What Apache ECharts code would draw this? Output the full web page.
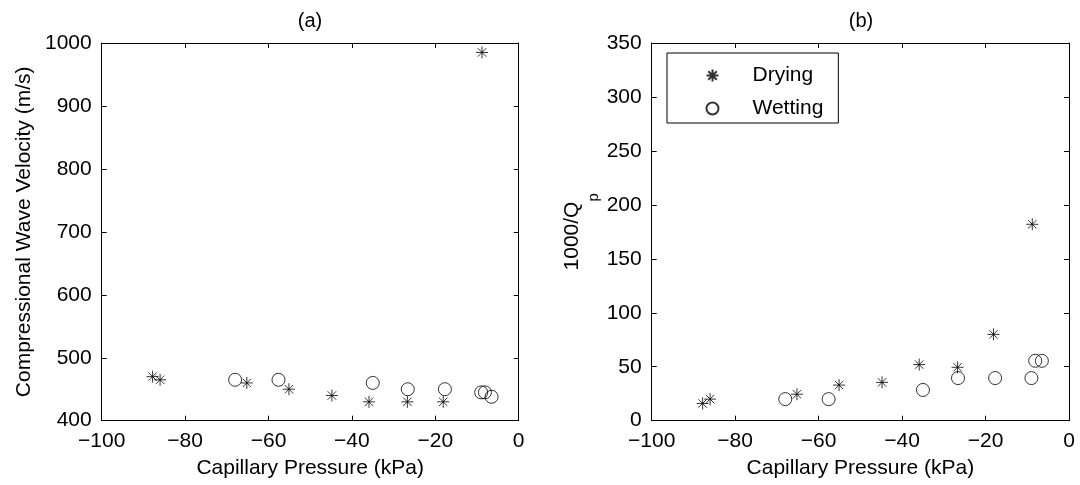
<!DOCTYPE html>
<html>
<head>
<meta charset="utf-8">
<script src="https://cdn.jsdelivr.net/npm/echarts@6/dist/echarts.min.js"></script>
<style>
  html, body { margin: 0; padding: 0; background: #fff; }
  #chart { width: 1080px; height: 485px; }
</style>
</head>
<body>
<div id="chart"></div>
<script>
// capillary pressure (kPa), same for both panels
const dryingPressure = [-87.8, -86.0, -65.2, -55.1, -44.8, -35.9, -26.7, -18.1, -8.8]
const wettingPressure = [-68.0, -57.6, -35.0, -26.6, -17.7, -9.0, -8.1, -6.5]
// (a) compressional wave velocity (m/s)
const dryingVelocity = [470, 465, 460, 450, 440, 430, 430, 430, 985]
const wettingVelocity = [465, 465, 460, 450, 450, 445, 445, 438]
// (b) attenuation 1000/Qp
const dryingAtten = [16, 20, 24.5, 33, 35.5, 52, 49.5, 80, 182]
const wettingAtten = [20, 20, 28.5, 39.5, 39.5, 39.5, 55.5, 55.5]

const FONT = 'Liberation Sans, Arial, Helvetica, sans-serif'
const STAR = 'path://M5,0L5,10M0,5L10,5M1.5,1.5L8.5,8.5M1.5,8.5L8.5,1.5'

const pairs = (xs, ys) => xs.map((x, i) => [x, ys[i]])
const minus = (v) => String(v).replace('-', '\u2212')

function axisBase(min, max, interval) {
  return {
    type: 'value',
    min: min,
    max: max,
    interval: interval,
    axisLine: { show: true, onZero: false, lineStyle: { color: '#000', width: 1 } },
    axisTick: { show: true, inside: true, length: 5, lineStyle: { color: '#000' } },
    splitLine: { show: false },
    axisLabel: { show: true, color: '#000', fontSize: 21, fontFamily: FONT, margin: 10, formatter: minus }
  }
}

function mirror(axis, position, gridIndex) {
  return Object.assign({}, axis, {
    position: position,
    gridIndex: gridIndex,
    name: '',
    axisLabel: { show: false }
  })
}

const xA = Object.assign(axisBase(-100, 0, 20), {
  gridIndex: 0,
  position: 'bottom',
  name: 'Capillary Pressure (kPa)',
  nameLocation: 'middle',
  nameGap: 37,
  nameTextStyle: { color: '#000', fontSize: 21, fontFamily: FONT }
})
const yA = Object.assign(axisBase(400, 1000, 100), {
  gridIndex: 0,
  position: 'left',
  name: 'Compressional Wave Velocity (m/s)',
  nameLocation: 'middle',
  nameGap: 67,
  nameTextStyle: { color: '#000', fontSize: 21, fontFamily: FONT }
})
const xB = Object.assign(axisBase(-100, 0, 20), {
  gridIndex: 1,
  position: 'bottom',
  name: 'Capillary Pressure (kPa)',
  nameLocation: 'middle',
  nameGap: 37,
  nameTextStyle: { color: '#000', fontSize: 21, fontFamily: FONT }
})
const yB = Object.assign(axisBase(0, 350, 50), {
  gridIndex: 1,
  position: 'left',
  name: '{n|1000/Q}{s|p}',
  nameLocation: 'middle',
  nameGap: 50,
  nameTextStyle: {
    color: '#000',
    fontFamily: FONT,
    rich: {
      n: { fontSize: 21, fontFamily: FONT, color: '#000', lineHeight: 24, verticalAlign: 'top' },
      s: { fontSize: 15, fontFamily: FONT, color: '#000', lineHeight: 40, verticalAlign: 'bottom' }
    }
  }
})

const chart = echarts.init(document.getElementById('chart'))

const starStyle = { color: 'none', borderColor: '#000', borderWidth: 1 }
const circleStyle = { color: 'none', borderColor: '#000', borderWidth: 1 }

chart.setOption({
  animation: false,
  backgroundColor: '#fff',
  grid: [
    { left: 101.7, right: 561.3, top: 43, bottom: 64.3 },
    { left: 651.7, right: 11, top: 43, bottom: 64.3 }
  ],
  xAxis: [xA, mirror(xA, 'top', 0), xB, mirror(xB, 'top', 1)],
  yAxis: [yA, mirror(yA, 'right', 0), yB, mirror(yB, 'right', 1)],
  legend: {
    data: ['Drying', 'Wetting'],
    orient: 'vertical',
    left: 667,
    top: 53,
    padding: [12, 15, 4, 37],
    // wide item box keeps the text away from the symbol
    itemWidth: 70,
    itemHeight: 12,
    itemGap: 12,
    symbolKeepAspect: true,
    backgroundColor: '#fff',
    borderColor: '#000',
    borderWidth: 1,
    borderRadius: 0,
    textStyle: { color: '#000', fontSize: 21, fontFamily: FONT }
  },
  graphic: [
    { type: 'text', x: 310, y: 21, style: { text: '(a)', textAlign: 'center', textVerticalAlign: 'middle', fontSize: 20, fontFamily: FONT, fill: '#000' } },
    { type: 'text', x: 861, y: 21, style: { text: '(b)', textAlign: 'center', textVerticalAlign: 'middle', fontSize: 20, fontFamily: FONT, fill: '#000' } }
  ],
  series: [
    {
      name: 'Drying', type: 'scatter', xAxisIndex: 0, yAxisIndex: 0,
      symbol: STAR, symbolSize: 12, itemStyle: starStyle,
      data: pairs(dryingPressure, dryingVelocity)
    },
    {
      name: 'Wetting', type: 'scatter', xAxisIndex: 0, yAxisIndex: 0,
      symbol: 'circle', symbolSize: 13, itemStyle: circleStyle,
      data: pairs(wettingPressure, wettingVelocity)
    },
    {
      name: 'Drying', type: 'scatter', xAxisIndex: 2, yAxisIndex: 2,
      symbol: STAR, symbolSize: 12, itemStyle: starStyle,
      data: pairs(dryingPressure, dryingAtten)
    },
    {
      name: 'Wetting', type: 'scatter', xAxisIndex: 2, yAxisIndex: 2,
      symbol: 'circle', symbolSize: 13, itemStyle: circleStyle,
      data: pairs(wettingPressure, wettingAtten)
    }
  ]
})
</script>
</body>
</html>
